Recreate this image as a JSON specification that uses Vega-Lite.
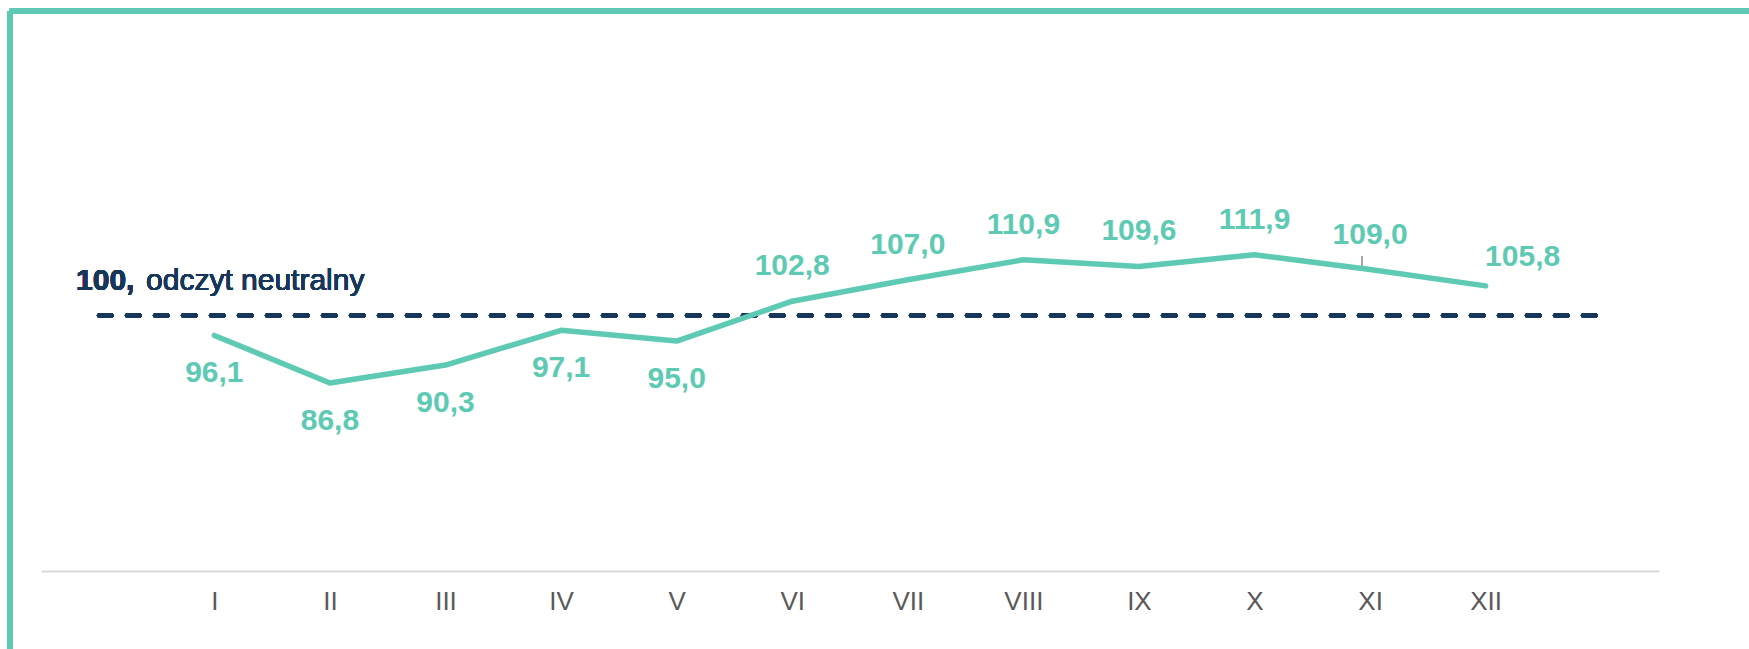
{
  "$schema": "https://vega.github.io/schema/vega-lite/v6.json",
  "autosize": {"type": "none"},
  "width": 1618,
  "height": 511,
  "padding": {"left": 41, "top": 60, "right": 90, "bottom": 78},
  "background": "white",
  "config": {
    "view": {"stroke": null},
    "font": "Liberation Sans",
    "text": {"font": "Liberation Sans"}
  },
  "data": {
    "values": [
      {"m": 1, "label": "I", "v": 96.1, "txt": "96,1"},
      {"m": 2, "label": "II", "v": 86.8, "txt": "86,8"},
      {"m": 3, "label": "III", "v": 90.3, "txt": "90,3"},
      {"m": 4, "label": "IV", "v": 97.1, "txt": "97,1"},
      {"m": 5, "label": "V", "v": 95.0, "txt": "95,0"},
      {"m": 6, "label": "VI", "v": 102.8, "txt": "102,8"},
      {"m": 7, "label": "VII", "v": 107.0, "txt": "107,0"},
      {"m": 8, "label": "VIII", "v": 110.9, "txt": "110,9"},
      {"m": 9, "label": "IX", "v": 109.6, "txt": "109,6"},
      {"m": 10, "label": "X", "v": 111.9, "txt": "111,9"},
      {"m": 11, "label": "XI", "v": 109.0, "txt": "109,0"},
      {"m": 12, "label": "XII", "v": 105.8, "txt": "105,8"}
    ]
  },
  "encoding": {
    "x": {
      "field": "m",
      "type": "quantitative",
      "scale": {"domain": [-0.5, 13.5], "nice": false, "zero": false},
      "axis": {
        "title": null,
        "values": [1,2,3,4,5,6,7,8,9,10,11,12],
        "labelExpr": "['','I','II','III','IV','V','VI','VII','VIII','IX','X','XI','XII'][datum.value]",
        "grid": false,
        "ticks": false,
        "domainColor": "#D9D9D9",
        "domainWidth": 2,
        "labelFontSize": 26,
        "labelColor": "#595959",
        "labelFont": "Liberation Sans",
        "labelPadding": 17,
        "labelFlush": false,
        "labelOverlap": false
      }
    },
    "y": {
      "field": "v",
      "type": "quantitative",
      "scale": {"domain": [50, 150], "nice": false, "zero": false},
      "axis": null
    }
  },
  "layer": [
    {
      "mark": {"type": "rule", "color": "#5ECAB4", "strokeWidth": 5, "clip": false},
      "encoding": {
        "x": {"datum": -0.77},
        "y": {"datum": 159.6},
        "y2": {"datum": 0}
      }
    },
    {
      "mark": {"type": "rule", "color": "#5ECAB4", "strokeWidth": 5, "clip": false},
      "encoding": {
        "x": {"datum": -0.77},
        "x2": {"datum": 17},
        "y": {"datum": 159.6}
      }
    },
    {
      "mark": {"type": "rule", "color": "#16375A", "strokeWidth": 4, "strokeDash": [13, 15], "strokeCap": "round"},
      "encoding": {
        "x": {"datum": 0},
        "x2": {"datum": 13},
        "y": {"datum": 100}
      }
    },
    {
      "mark": {"type": "rule", "color": "#A6A6A6", "strokeWidth": 1.5},
      "encoding": {
        "x": {"datum": 10.93},
        "y": {"datum": 111.5},
        "y2": {"datum": 109.6}
      }
    },
    {
      "mark": {"type": "text", "text": "100,", "fontWeight": "bold", "fontSize": 30, "color": "#16375A", "align": "left", "baseline": "alphabetic"},
      "encoding": {
        "x": {"datum": -0.197},
        "y": {"datum": 105}
      }
    },
    {
      "mark": {"type": "text", "text": "odczyt neutralny", "fontSize": 30, "color": "#16375A", "align": "left", "baseline": "alphabetic", "dx": 70},
      "encoding": {
        "x": {"datum": -0.197},
        "y": {"datum": 105}
      }
    },
    {
      "mark": {"type": "line", "color": "#5ECAB4", "strokeWidth": 5.5, "strokeCap": "round", "strokeJoin": "round"}
    },
    {
      "transform": [{"filter": "datum.v < 100"}],
      "mark": {"type": "text", "fontSize": 30, "fontWeight": "bold", "color": "#5ECAB4", "dy": 38, "baseline": "middle"},
      "encoding": {"text": {"field": "txt"}}
    },
    {
      "transform": [{"filter": "datum.v >= 100 && datum.m < 12"}],
      "mark": {"type": "text", "fontSize": 30, "fontWeight": "bold", "color": "#5ECAB4", "dy": -35, "baseline": "middle"},
      "encoding": {"text": {"field": "txt"}}
    },
    {
      "transform": [{"filter": "datum.m == 12"}],
      "mark": {"type": "text", "fontSize": 30, "fontWeight": "bold", "color": "#5ECAB4", "dy": -29, "dx": 37, "baseline": "middle"},
      "encoding": {"text": {"field": "txt"}}
    }
  ]
}
